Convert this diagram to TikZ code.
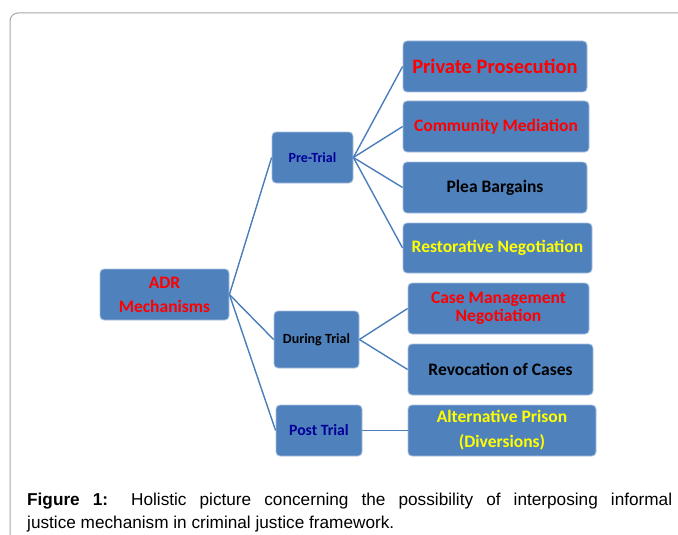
\documentclass[tikz,border=0pt]{standalone}
\usepackage{fontspec}
\setmainfont{Carlito}
\newfontfamily\capfont{Liberation Sans}
\definecolor{boxblue}{HTML}{4F81BD}
\definecolor{boxedge}{HTML}{A9C1DF}
\definecolor{linkblue}{HTML}{4A7EBB}
\definecolor{darkblue}{RGB}{0,0,150}
\definecolor{txtred}{RGB}{255,0,0}
\definecolor{txtyellow}{RGB}{255,255,0}
\definecolor{framegray}{HTML}{A6A6A6}
\begin{document}
\begin{tikzpicture}[x=1pt,y=-1pt,
  box/.style={draw=boxedge, line width=0.8pt, fill=boxblue, rounded corners=4pt,
    inner sep=0pt, align=center, minimum height=51pt},
  link/.style={draw=linkblue, line width=1.4pt},
  bigtxt/.style={font=\bfseries\fontsize{17.5}{18}\selectfont},
  midtxt/.style={font=\bfseries\fontsize{14}{16}\selectfont}]
\useasboundingbox (0,0) rectangle (678,535);
\clip (0,0) rectangle (678,535);
\draw[framegray, line width=1pt, rounded corners=8pt] (10,545) -- (10,13) -- (690,13);

\node[box, minimum width=129pt, text=txtred, font=\bfseries\fontsize{17.5}{24}\selectfont] (adr) at (164.5,294.5) {ADR\\Mechanisms};

\node[box, minimum width=81pt, text=darkblue, midtxt] (pre) at (312.5,157.5) {Pre-Trial};
\node[box, minimum width=85pt, minimum height=57pt, text=black, midtxt] (during) at (316.5,339.5) {During Trial};
\node[box, minimum width=86pt, text=darkblue, font=\bfseries\fontsize{15.7}{18}\selectfont] (post) at (319,430.5) {Post Trial};

\node[box, minimum width=184pt, text=txtred, font=\bfseries\fontsize{20.5}{22}\selectfont] (pp) at (495,66.5) {Private Prosecution};
\node[box, minimum width=186pt, text=txtred, bigtxt] (cm) at (496,126.5) {Community Mediation};
\node[box, minimum width=184pt, text=black, bigtxt] (pb) at (495,187.5) {Plea Bargains};
\node[box, minimum width=189pt, minimum height=50pt, text=txtyellow, bigtxt] (rn) at (497.5,248) {Restorative Negotiation};

\node[box, minimum width=181pt, text=txtred, bigtxt] (cmn) at (498.5,308.5) {Case Management\\Negotiation};
\node[box, minimum width=185pt, text=black, bigtxt] (rc) at (500.5,369.5) {Revocation of Cases};
\node[box, minimum width=188pt, text=txtyellow, font=\bfseries\fontsize{17.5}{25}\selectfont] (ap) at (502,430.5) {Alternative Prison\\(Diversions)};

\draw[link] (adr.east) -- (pre.west);
\draw[link] (adr.east) -- (during.west);
\draw[link] (adr.east) -- (post.west);
\draw[link] (pre.east) -- (pp.west);
\draw[link] (pre.east) -- (cm.west);
\draw[link] (pre.east) -- (pb.west);
\draw[link] (pre.east) -- (rn.west);
\draw[link] (during.east) -- (cmn.west);
\draw[link] (during.east) -- (rc.west);
\draw[link] (post.east) -- (ap.west);

\node[anchor=base west, inner sep=0pt, align=left, font=\capfont\fontsize{17.2}{23}\selectfont] (cap) at (27,528)
  {\makebox[645pt][s]{\textbf{Figure 1:} Holistic picture concerning the possibility of interposing informal}\\justice mechanism in criminal justice framework.};
\end{tikzpicture}
\end{document}
